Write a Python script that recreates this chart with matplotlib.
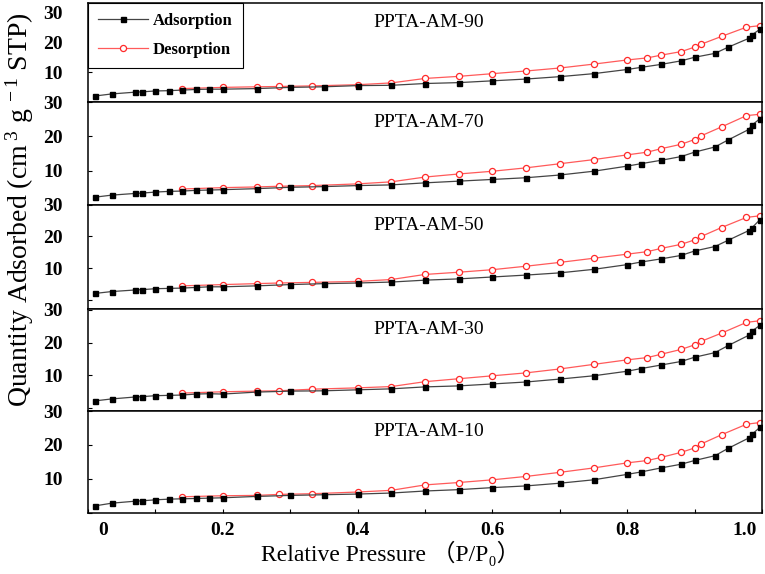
import matplotlib
matplotlib.use("Agg")
import matplotlib.pyplot as plt
from matplotlib.transforms import ScaledTranslation
from matplotlib.ticker import MultipleLocator

plt.rcParams['font.family'] = ['Liberation Serif', 'Noto Sans CJK SC', 'DejaVu Serif']
plt.rcParams['mathtext.fontset'] = 'custom'
plt.rcParams['mathtext.rm'] = 'Liberation Serif'
plt.rcParams['mathtext.it'] = 'Liberation Serif:italic'

# ---- data ----
sample_names = ["PPTA-AM-90", "PPTA-AM-70", "PPTA-AM-50", "PPTA-AM-30", "PPTA-AM-10"]

x_ads = [0.01, 0.035, 0.07, 0.08, 0.10, 0.12, 0.14, 0.16, 0.18, 0.20, 0.25, 0.30, 0.35,
         0.40, 0.45, 0.50, 0.55, 0.60, 0.65, 0.70, 0.75, 0.80, 0.82, 0.85, 0.88, 0.90,
         0.93, 0.95, 0.98, 0.985, 0.997]
x_des = [0.997, 0.977, 0.94, 0.91, 0.90, 0.88, 0.85, 0.83, 0.80, 0.75, 0.70, 0.65, 0.60,
         0.55, 0.50, 0.45, 0.40, 0.333, 0.283, 0.25, 0.20, 0.14]

ads_90 = [2.1, 2.8, 3.4, 3.5, 3.8, 3.9, 4.1, 4.3, 4.4, 4.4, 4.6, 5.0, 5.2, 5.6, 5.7, 6.3, 6.6,
          7.2, 7.8, 8.6, 9.6, 11.0, 11.7, 12.7, 13.9, 15.1, 16.4, 18.5, 21.4, 22.6, 24.5]
ads_70 = [2.2, 2.8, 3.3, 3.4, 3.7, 3.9, 4.0, 4.2, 4.3, 4.4, 4.7, 5.1, 5.3, 5.6, 5.8, 6.4, 6.9,
          7.4, 7.9, 8.7, 9.8, 11.3, 12.0, 13.0, 14.1, 15.4, 16.9, 19.0, 22.0, 23.3, 25.2]
ads_50 = [2.0, 2.6, 3.1, 3.2, 3.5, 3.6, 3.7, 3.9, 4.1, 4.1, 4.4, 4.8, 5.1, 5.3, 5.6, 6.2, 6.6,
          7.2, 7.8, 8.5, 9.6, 11.1, 11.9, 12.9, 14.0, 15.4, 16.8, 18.8, 21.8, 22.7, 25.3]
ads_30 = [2.1, 2.7, 3.3, 3.4, 3.7, 3.8, 3.9, 4.2, 4.3, 4.2, 4.8, 5.1, 5.2, 5.5, 5.8, 6.4, 6.7,
          7.3, 7.9, 8.8, 9.8, 11.2, 12.0, 13.1, 14.2, 15.5, 16.9, 19.1, 22.2, 23.5, 25.3]
ads_10 = [2.0, 2.8, 3.4, 3.5, 3.8, 4.0, 4.1, 4.2, 4.3, 4.4, 4.8, 5.1, 5.3, 5.5, 5.8, 6.4, 6.8,
          7.4, 7.9, 8.7, 9.7, 11.3, 12.0, 13.2, 14.3, 15.4, 16.8, 19.0, 22.0, 23.1, 25.2]

des_90 = [25.7, 25.2, 22.1, 19.5, 18.5, 17.0, 15.8, 14.9, 14.2, 12.8, 11.5, 10.5, 9.6, 8.7,
          8.0, 6.5, 5.9, 5.5, 5.3, 5.2, 5.0, 4.6]
des_70 = [26.5, 26.1, 22.8, 20.2, 19.1, 17.7, 16.4, 15.4, 14.6, 13.2, 12.0, 10.8, 9.8, 9.0,
          8.1, 6.7, 6.1, 5.6, 5.4, 5.2, 5.0, 4.6]
des_50 = [26.5, 26.0, 22.8, 20.0, 18.9, 17.5, 16.2, 15.2, 14.4, 13.1, 11.8, 10.6, 9.5, 8.7,
          8.0, 6.4, 5.8, 5.5, 5.3, 5.1, 4.8, 4.4]
des_30 = [26.7, 26.2, 22.9, 20.4, 19.3, 17.9, 16.4, 15.4, 14.7, 13.3, 11.9, 10.7, 9.8, 8.9,
          8.0, 6.5, 6.1, 5.7, 5.2, 5.1, 4.9, 4.5]
des_10 = [26.6, 26.1, 23.0, 20.3, 19.1, 17.8, 16.3, 15.4, 14.7, 13.2, 11.9, 10.7, 9.7, 8.9,
          8.2, 6.6, 6.1, 5.6, 5.4, 5.1, 5.0, 4.7]

ads_all = [ads_90, ads_70, ads_50, ads_30, ads_10]
des_all = [des_90, des_70, des_50, des_30, des_10]

y_ticks = [0, 10, 20, 30]
y_ticklabels = ["", "10", "20", "30"]
x_ticks = [0, 0.2, 0.4, 0.6, 0.8, 1.0]
x_ticklabels = ["0", "0.2", "0.4", "0.6", "0.8", "1.0"]

# ---- layout ----
W, H = 765, 574
fig = plt.figure(figsize=(W / 100, H / 100), dpi=100)

left_px, right_px = 88, 762
bounds_px = [(3, 102.3), (102.3, 204.7), (204.7, 309), (309, 411), (411, 512.7)]
ylims = [(0, 33.3), (0, 30), (-2.9, 30), (-1.0, 30.3), (0, 30)]

ads_color = '#444444'
des_color = '#ff5a5a'

axes = []
for i, (top, bot) in enumerate(bounds_px):
    ax = fig.add_axes([left_px / W, 1 - bot / H, (right_px - left_px) / W, (bot - top) / H])
    axes.append(ax)
    la, = ax.plot(x_ads, ads_all[i], color=ads_color, lw=0.9, marker='s', ms=3.6,
                  mfc='black', mec='black', label='Adsorption', zorder=3)
    ld, = ax.plot(x_des, des_all[i], color=des_color, lw=0.9, marker='o', ms=4.4,
                  mfc='white', mec='#ff2a2a', mew=0.9, label='Desorption', zorder=2)
    ax.set_xlim(0, 1.0)
    ax.set_ylim(*ylims[i])
    ax.set_yticks(y_ticks)
    ax.set_yticklabels(y_ticklabels, fontweight='bold', fontsize=14)
    ax.tick_params(axis='y', direction='in', length=3, width=0.8, pad=18, left=True, right=False)
    for s in ax.spines.values():
        s.set_linewidth(1.1)
    ax.text(0.505, 0.80, sample_names[i], transform=ax.transAxes, ha='center', va='center',
            fontsize=14)
    if i < 4:
        ax.tick_params(axis='x', bottom=False, labelbottom=False)
    else:
        ax.set_xticks(x_ticks)
        ax.set_xticklabels(x_ticklabels, fontweight='bold', fontsize=14)
        ax.xaxis.set_minor_locator(MultipleLocator(0.1))
        ax.tick_params(axis='x', which='both', direction='in', length=3, width=0.8, pad=7)
        ticks = ax.xaxis.get_major_ticks()
        off0 = ScaledTranslation(15 / 100, 0, fig.dpi_scale_trans)
        off1 = ScaledTranslation(-17 / 100, 0, fig.dpi_scale_trans)
        ticks[0].label1.set_transform(ticks[0].label1.get_transform() + off0)
        ticks[-1].label1.set_transform(ticks[-1].label1.get_transform() + off1)
    if i == 0:
        leg = ax.legend(loc='upper left', bbox_to_anchor=(0, 1), borderaxespad=0,
                        fancybox=False, edgecolor='black', framealpha=1,
                        prop={'weight': 'bold', 'size': 12}, handlelength=3.0,
                        handletextpad=0.3, labelspacing=0.75, borderpad=0.6)
        leg.get_frame().set_linewidth(0.8)
        leg.set_zorder(10)

fig.text(20 / W, 1 - 210 / H, r"Quantity Adsorbed (cm$^{\ 3}$ g$^{\ -1}$ STP)", rotation=90,
         ha='center', va='center', fontsize=20)
fig.text(391 / W, 1 - 553 / H, "Relative Pressure （P/P₀）", ha='center', va='center',
         fontsize=17)

fig.savefig("out.png", dpi=100)
